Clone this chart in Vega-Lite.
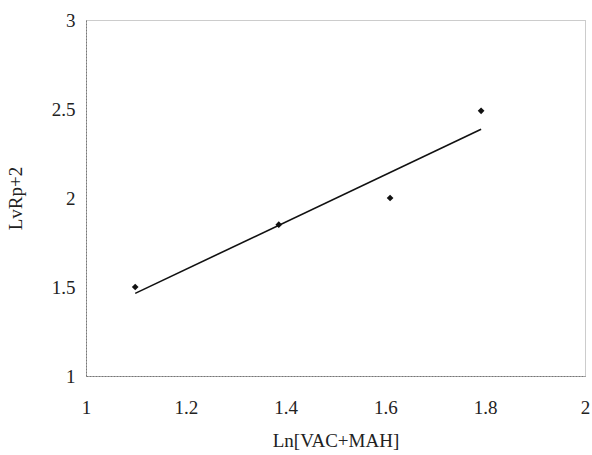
{
  "$schema": "https://vega.github.io/schema/vega-lite/v6.json",
  "width": 499,
  "height": 356,
  "autosize": "none",
  "padding": {"left": 86, "top": 20, "right": 7, "bottom": 79},
  "background": "white",
  "config": {
    "view": {"stroke": "#999", "strokeDash": [1, 1], "strokeWidth": 1},
    "font": "Liberation Serif",
    "axis": {
      "grid": false,
      "ticks": false,
      "domainColor": "#777",
      "domainDash": [2, 1],
      "labelFont": "Liberation Serif",
      "titleFont": "Liberation Serif",
      "labelFontSize": 19,
      "titleFontSize": 19,
      "labelColor": "#222",
      "titleColor": "#222",
      "titleFontWeight": "normal"
    }
  },
  "data": {
    "values": [
      {"x": 1.0986, "y": 1.5},
      {"x": 1.3863, "y": 1.85},
      {"x": 1.6094, "y": 2.0},
      {"x": 1.7918, "y": 2.49}
    ]
  },
  "layer": [
    {
      "transform": [{"regression": "y", "on": "x"}],
      "mark": {"type": "line", "color": "#111", "strokeWidth": 1.6},
      "encoding": {
        "x": {"field": "x", "type": "quantitative"},
        "y": {"field": "y", "type": "quantitative"}
      }
    },
    {
      "mark": {"type": "point", "shape": "diamond", "filled": true, "color": "#111", "size": 45, "opacity": 1},
      "encoding": {
        "x": {
          "field": "x",
          "type": "quantitative",
          "scale": {"domain": [1, 2], "nice": false, "zero": false},
          "axis": {"values": [1, 1.2, 1.4, 1.6, 1.8, 2], "format": "~g", "labelPadding": 22, "title": "Ln[VAC+MAH]", "titlePadding": 14, "labelFlush": false}
        },
        "y": {
          "field": "y",
          "type": "quantitative",
          "scale": {"domain": [1, 3], "nice": false, "zero": false},
          "axis": {"values": [1, 1.5, 2, 2.5, 3], "format": "~g", "labelPadding": 11, "title": "LvRp+2", "titlePadding": 26}
        }
      }
    }
  ]
}
